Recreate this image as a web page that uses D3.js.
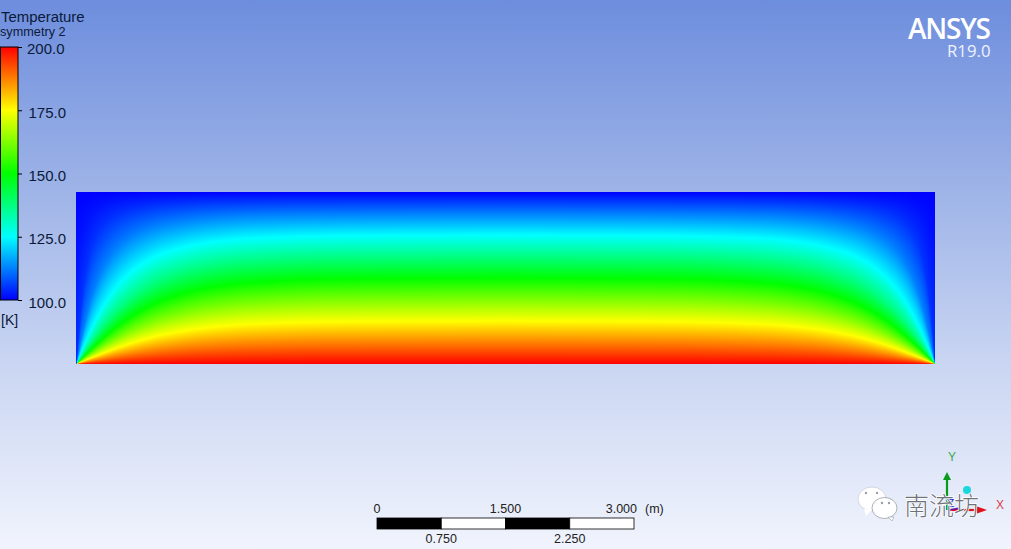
<!DOCTYPE html>
<html><head><meta charset="utf-8">
<script src="https://cdn.jsdelivr.net/npm/d3@7/dist/d3.min.js"></script>
<style>html,body{margin:0;padding:0;overflow:hidden;background:#fff}svg{display:block}text{font-family:"Liberation Sans",Arial,sans-serif}</style>
</head><body><svg id="c" width="1011" height="549"></svg>
<script>
// Temperature legend
const colourTemps = [100,125,150,175,200];
const colourRamp = ["#0000ff","#00ffff","#00ff00","#ffff00","#ff0000"];
const legendTicks = [100,125,150,175,200];
// Isotherm levels [K], and distance from the nearest side wall [m]
const isoLevels = [105,112.5,125,137.5,150,162.5,175,187.5];
const wallDist = [0,0.05,0.1,0.2,0.35,0.5,0.75,1,1.5,2,3,5];
// Height [m] above the hot wall of each isotherm, read at each wallDist
const iso105  = [0,0.589,0.998,1.404,1.636,1.736,1.812,1.848,1.880,1.891,1.898,1.900];
const iso1125 = [0,0.249,0.478,0.847,1.186,1.378,1.542,1.625,1.700,1.729,1.744,1.750];
const iso125  = [0,0.120,0.238,0.459,0.731,0.936,1.154,1.283,1.408,1.460,1.490,1.500];
const iso1375 = [0,0.075,0.149,0.292,0.487,0.649,0.853,0.989,1.135,1.198,1.239,1.250];
const iso150  = [0,0.050,0.100,0.197,0.333,0.456,0.620,0.740,0.880,0.944,0.989,1.000];
const iso1625 = [0,0.033,0.067,0.132,0.226,0.311,0.434,0.527,0.642,0.700,0.740,0.749];
const iso175  = [0,0.021,0.041,0.082,0.141,0.196,0.275,0.338,0.420,0.462,0.491,0.500];
const iso1875 = [0,0.010,0.020,0.040,0.068,0.095,0.133,0.165,0.208,0.229,0.245,0.250];
const isoHeights = [iso105,iso1125,iso125,iso1375,iso150,iso1625,iso175,iso1875];
// Scale bar
const barTop = [0,1.5,3];
const barBottom = [0.75,2.25];
const barEdges = [0,0.75,1.5,2.25,3];

const svg = d3.select("#c");
const defs = svg.append("defs");
const bg = defs.append("linearGradient").attr("id","bg").attr("x1",0).attr("x2",0).attr("y1",0).attr("y2",1);
[[0,"#6d8ddd"],[0.33,"#9cb2e7"],[0.66,"#c9d5f2"],[1,"#f1f4fd"]].forEach(s=>bg.append("stop").attr("offset",s[0]).attr("stop-color",s[1]));
svg.append("rect").attr("width",1011).attr("height",549).attr("fill","url(#bg)");

const colour = d3.scaleLinear().domain(colourTemps).range(colourRamp).clamp(true);
const xS = d3.scaleLinear().domain([0,10]).range([76.5,935]);
const yS = d3.scaleLinear().domain([0,2]).range([364,192]);

// monotone cubic through one isotherm
function mono(xs,ys){
  const n=xs.length,h=[],s=[],m=new Array(n);
  for(let i=0;i<n-1;i++){h[i]=xs[i+1]-xs[i];s[i]=(ys[i+1]-ys[i])/h[i];}
  m[0]=s[0];m[n-1]=s[n-2];
  for(let i=1;i<n-1;i++){m[i]=s[i-1]*s[i]<=0?0:(h[i-1]+h[i])*3/((2*h[i]+h[i-1])/s[i-1]+(h[i]+2*h[i-1])/s[i]);}
  return v=>{
    const i=Math.min(n-2,Math.max(0,d3.bisectRight(xs,v)-1));
    const t=(v-xs[i])/h[i],t2=t*t,t3=t2*t;
    return (2*t3-3*t2+1)*ys[i]+(t3-2*t2+t)*h[i]*m[i]+(-2*t3+3*t2)*ys[i+1]+(t3-t2)*h[i]*m[i+1];
  };
}
const isoFns = isoHeights.map(a=>mono(wallDist,a));
const field = svg.append("g");
const [px0,px1]=[76,935];
d3.range(px0,px1).forEach(px=>{
  const xm=xS.invert(Math.max(px+0.5,76.6));
  const d=Math.max(0,Math.min(xm,10-xm));
  const id="col"+px;
  const g=defs.append("linearGradient").attr("id",id).attr("gradientUnits","userSpaceOnUse")
    .attr("x1",0).attr("x2",0).attr("y1",yS(2)).attr("y2",yS(0));
  g.append("stop").attr("offset",0).attr("stop-color",colour(100));
  isoFns.forEach((f,i)=>{
    g.append("stop").attr("offset",(2-f(d))/2).attr("stop-color",colour(isoLevels[i]));
  });
  g.append("stop").attr("offset",1).attr("stop-color",colour(200));
  field.append("rect").attr("x",px).attr("y",yS(2)).attr("width",1).attr("height",yS(0)-yS(2))
    .attr("fill",`url(#${id})`).attr("shape-rendering","crispEdges");
});

// Legend
const lgS = d3.scaleLinear().domain([100,200]).range([300,47]);
const lgGrad = defs.append("linearGradient").attr("id","lg").attr("gradientUnits","userSpaceOnUse")
  .attr("x1",0).attr("x2",0).attr("y1",lgS(200)).attr("y2",lgS(100));
d3.range(colourTemps.length-1,-1,-1).forEach(i=>lgGrad.append("stop").attr("offset",(200-colourTemps[i])/100).attr("stop-color",colourRamp[i]));
svg.append("rect").attr("x",0.5).attr("y",lgS(200)).attr("width",17.5).attr("height",lgS(100)-lgS(200))
  .attr("fill","url(#lg)").attr("stroke","#000").attr("stroke-width",1);
const lgAxis = svg.append("g").attr("transform","translate(18,0)")
  .call(d3.axisRight(lgS).tickValues(legendTicks).tickSize(4).tickPadding(6).tickFormat(d3.format(".1f")));
lgAxis.select(".domain").remove();
lgAxis.selectAll("line").attr("stroke","#000");
lgAxis.selectAll("text").attr("font-size",15).attr("fill","#0b1a3a").attr("font-family","Liberation Sans")
  .attr("dy",d=>d===200?"0.42em":"0.47em").attr("x",d=>d===200?9:10.5);
const txt=(x,y,s,size,fill,anchor)=>svg.append("text").attr("x",x).attr("y",y).text(s)
  .attr("font-size",size).attr("fill",fill||"#0b1a3a").attr("text-anchor",anchor||"start");
txt(1,22,"Temperature",14.9);
txt(0,35.5,"symmetry 2",12.7);
txt(1,325,"[K]",14);

// Logo
txt(908,38.5,"ANSYS",28,"#ffffff").style("font-family","'Open Sans'").attr("font-weight",600)
  .attr("textLength",83).attr("lengthAdjust","spacing");
txt(947,57,"R19.0",15.5,"#eef2ff").style("font-family","'Open Sans'")
  .attr("textLength",43.5).attr("lengthAdjust","spacingAndGlyphs");

// Scale bar
const bS = d3.scaleLinear().domain([0,3]).range([377,634]);
svg.append("g").selectAll("rect").data(d3.pairs(barEdges)).join("rect")
  .attr("x",d=>bS(d[0])).attr("y",518).attr("width",d=>bS(d[1])-bS(d[0])).attr("height",11)
  .attr("fill",(d,i)=>i%2?"#ffffff":"#000000").attr("stroke","#000").attr("stroke-width",0.8);
const fmt=d=>d===0?"0":d3.format(".3f")(d);
barTop.forEach(v=>{const a=v===3?"end":"middle";txt(v===3?bS(v)+3:bS(v),512.5,fmt(v),12.5,"#222",a);});
txt(645,512.5,"(m)",12.5,"#222");
barBottom.forEach(v=>txt(bS(v),542.5,fmt(v),12.5,"#222","middle"));

// Triad
const arrow=(x1,y1,x2,y2,col,w,hw,hl)=>{
  svg.append("line").attr("x1",x1).attr("y1",y1).attr("x2",x2).attr("y2",y2).attr("stroke",col).attr("stroke-width",w);
  const dx=Math.sign(x2-x1),dy=Math.sign(y2-y1);
  const pts = dx? [[x2,y2-hw],[x2,y2+hw],[x2+dx*hl,y2]] : [[x2-hw,y2],[x2+hw,y2],[x2,y2+dy*hl]];
  svg.append("polygon").attr("points",pts.join(" ")).attr("fill",col);
};
arrow(947,510,947,480,"#0a9a1c",2.2,4,8);
arrow(950,510,977,510,"#e0101c",2.2,3.5,10);
svg.append("line").attr("x1",949).attr("y1",510).attr("x2",960).attr("y2",508).attr("stroke","#5a1aa8").attr("stroke-width",1.5);
svg.append("text").attr("x",951).attr("y",507).text("Z").attr("font-size",10).attr("fill","#1a1ad0").attr("text-anchor","middle");
svg.append("circle").attr("cx",967).attr("cy",490).attr("r",4).attr("fill","#19d7dd");
txt(952,461,"Y",12,"#3aa84a","middle");
txt(1000,509,"X",12,"#d8404a","middle");

// Watermark
const wm=svg.append("g");
wm.append("ellipse").attr("cx",872).attr("cy",499).attr("rx",14).attr("ry",12).attr("fill","#fff").attr("stroke","#c4c8d0").attr("stroke-width",0.7);
wm.append("polygon").attr("points","864,509 872,510 866,516").attr("fill","#fff");
wm.append("ellipse").attr("cx",884.5).attr("cy",508).attr("rx",12.5).attr("ry",10.5).attr("fill","#fff").attr("stroke","#8a8f99").attr("stroke-width",0.7);
wm.append("polygon").attr("points","888,517 894,517 892,521").attr("fill","#fff").attr("stroke","#8a8f99").attr("stroke-width",0.5);
[[866,493],[877,493],[882,503],[889,503]].forEach(p=>wm.append("circle").attr("cx",p[0]).attr("cy",p[1]).attr("r",1.2).attr("fill","#9a9ea8"));
txt(904,515,"南流坊",25,"#6e727a").style("font-family","'Noto Sans CJK SC'").attr("font-weight",300)
  .attr("stroke","#ffffff").attr("stroke-width",1.5).attr("paint-order","stroke");
</script></body></html>
